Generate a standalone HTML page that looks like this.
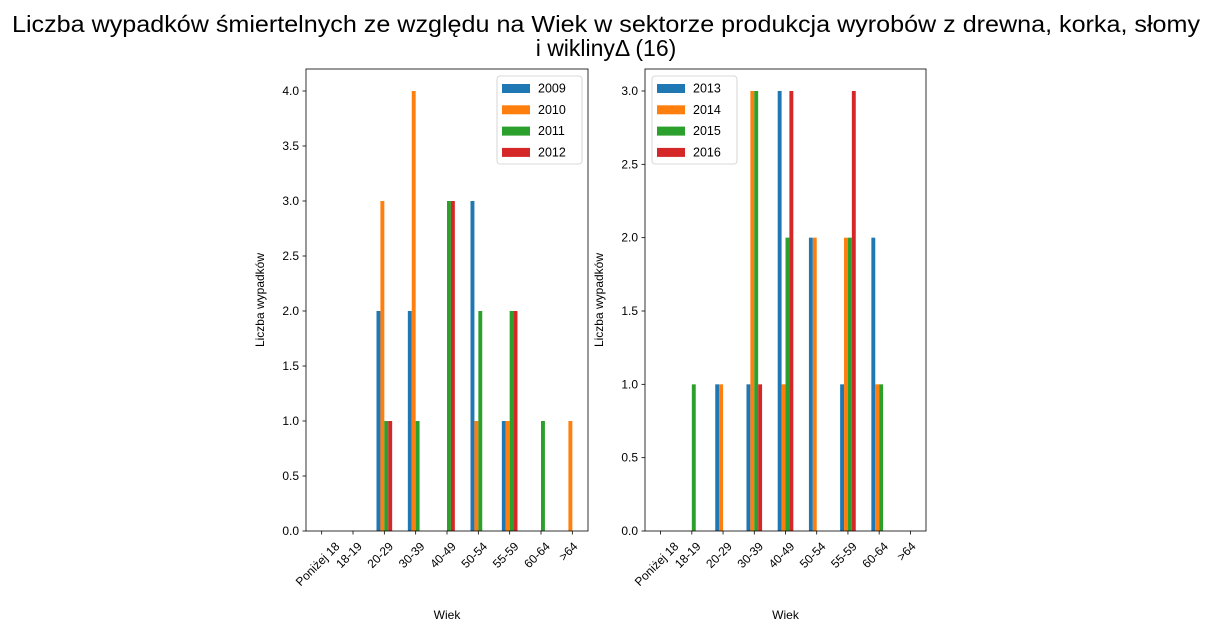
<!DOCTYPE html>
<html><head><meta charset="utf-8"><style>
html,body{margin:0;padding:0;background:#fff;}
svg text{font-family:"Liberation Sans","DejaVu Sans",sans-serif;}
</style></head><body>
<svg id="chart" width="1212" height="631" xmlns="http://www.w3.org/2000/svg">
<text x="606" y="32" font-size="23" text-anchor="middle" textLength="1188" lengthAdjust="spacingAndGlyphs">Liczba wypadków śmiertelnych ze względu na Wiek w sektorze produkcja wyrobów z drewna, korka, słomy</text>
<text x="606" y="56" font-size="23" text-anchor="middle">i wiklinyΔ (16)</text>
</svg>
<script>
const categories = ["Poniżej 18","18-19","20-29","30-39","40-49","50-54","55-59","60-64",">64"];
const leftSeriesNames = ["2009","2010","2011","2012"];
const s2009 = [0,0,2,2,0,3,1,0,0];
const s2010 = [0,0,3,4,0,1,1,0,1];
const s2011 = [0,0,1,1,3,2,2,1,0];
const s2012 = [0,0,1,0,3,0,2,0,0];
const rightSeriesNames = ["2013","2014","2015","2016"];
const s2013 = [0,0,1,1,3,2,1,2,0];
const s2014 = [0,0,1,3,1,2,2,1,0];
const s2015 = [0,1,0,3,2,0,2,1,0];
const s2016 = [0,0,0,1,3,0,3,0,0];
const leftTicks = [0,0.5,1,1.5,2,2.5,3,3.5,4];
const rightTicks = [0,0.5,1,1.5,2,2.5,3];
const colors = ["#1f77b4","#ff7f0e","#2ca02c","#d62728"];
const NS = "http://www.w3.org/2000/svg";
const svg = document.getElementById('chart');
function mk(tag, attrs, parent){const e=document.createElementNS(NS,tag);for(const k in attrs)e.setAttribute(k,attrs[k]);(parent||svg).appendChild(e);return e;}

function panel(prefix, x0, x1, y0, y1, ymax, ticks, series, names, legX){
  const g = mk('g',{});
  
  
  const xs = i => x0 + (i+0.5)*(x1-x0)/categories.length;
  const ys = v => y1 - v/ymax*(y1-y0);
  const bw = 0.125*(x1-x0)/categories.length;
  series.forEach((arr,si)=>{
    arr.forEach((v,i)=>{
      if(v<=0) return;
      const cx = xs(i) + (si-1.5)*bw;
      const r = mk('rect',{x:cx-bw/2,y:ys(v),width:bw,height:ys(0)-ys(v),fill:colors[si]},g);
      
      
    });
  });
  const frame = mk('rect',{x:x0,y:y0,width:x1-x0,height:y1-y0,fill:'none',stroke:'#000','stroke-width':0.8},g);
  
  
  ticks.forEach(t=>{
    const y = ys(t);
    mk('line',{x1:x0-3.5,x2:x0,y1:y,y2:y,stroke:'#000','stroke-width':0.8},g);
    const tx = mk('text',{x:x0-7,y:y+4,'font-size':12,'text-anchor':'end'},g);
    tx.textContent = t.toFixed(1);
    
    
  });
  categories.forEach((c,i)=>{
    const x = xs(i);
    mk('line',{x1:x,x2:x,y1:y1,y2:y1+3.5,stroke:'#000','stroke-width':0.8},g);
    const tx = mk('text',{x:0,y:0,'font-size':12,'text-anchor':'middle'},g);
    tx.textContent = c;
    const L = tx.getComputedTextLength();
    const cx = x - 4;
    const cy = y1 + 9 + (L+12)*0.354;
    tx.setAttribute('x', cx);
    tx.setAttribute('y', cy+4);
    tx.setAttribute('transform', `rotate(-45 ${cx} ${cy})`);
    
    
  });
  const xl = mk('text',{x:(x0+x1)/2,y:619,'font-size':12,'text-anchor':'middle'},g);
  xl.textContent='Wiek';
  
  
  const yx = x0-42, yy=(y0+y1)/2;
  const yl = mk('text',{x:yx,y:yy,'font-size':12,'text-anchor':'middle',transform:`rotate(-90 ${yx} ${yy})`},g);
  yl.textContent='Liczba wypadków';
  
  
  const lg = mk('g',{},g);
  
  
  mk('rect',{x:legX,y:76,width:85,height:88,rx:3,fill:'#fff',stroke:'#ccc','stroke-width':0.8},lg);
  names.forEach((n,si)=>{
    const yy2 = 88 + si*21.3;
    const e = mk('g',{},lg);
    
    
    mk('rect',{x:legX+5,y:yy2-4,width:28,height:9,fill:colors[si]},e);
    const t = mk('text',{x:legX+41,y:yy2+4.5,'font-size':12.5},e);
    t.textContent=n;
  });
}
panel('left',306,588,69,531,4.2,leftTicks,[s2009,s2010,s2011,s2012],leftSeriesNames,497);
panel('right',645,926,69,531,3.15,rightTicks,[s2013,s2014,s2015,s2016],rightSeriesNames,652);
</script>
</body></html>
